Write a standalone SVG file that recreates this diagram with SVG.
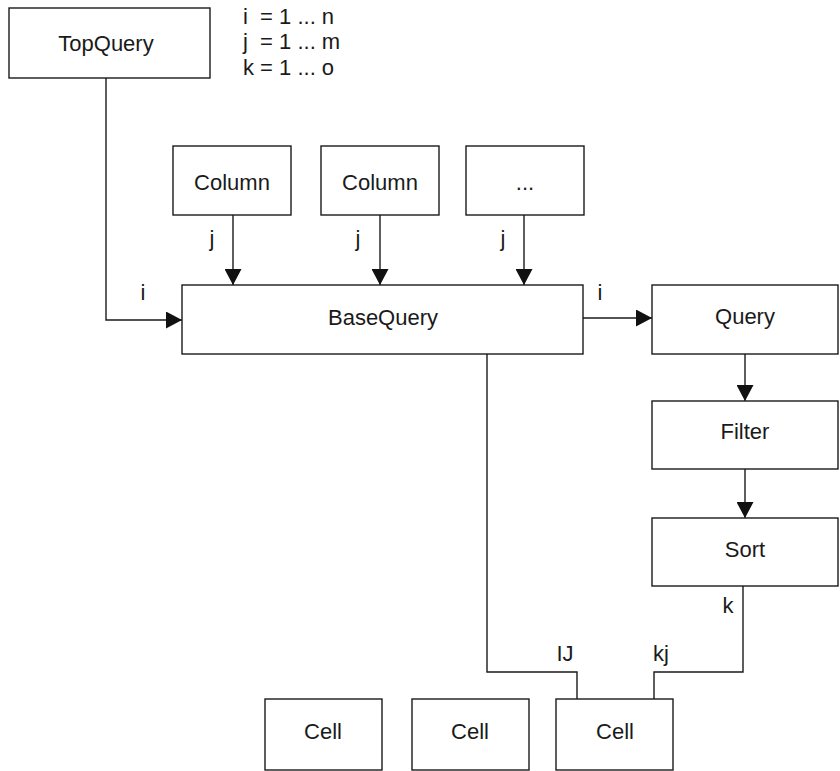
<svg xmlns="http://www.w3.org/2000/svg" width="840" height="771" viewBox="0 0 840 771">
<defs>
<marker id="arr" markerUnits="userSpaceOnUse" markerWidth="16" markerHeight="17" refX="16" refY="8.5" orient="auto" viewBox="0 0 16 17">
<path d="M0,0 L16,8.5 L0,17 z" fill="#111"/>
</marker>
<style>
.box{fill:#fff;stroke:#1a1a1a;stroke-width:1.4}
.t{font-family:"Liberation Sans",Arial,sans-serif;font-size:22px;fill:#1a1a1a;text-anchor:middle}
.l{font-family:"Liberation Sans",Arial,sans-serif;font-size:22px;fill:#1a1a1a;white-space:pre}
.c{fill:none;stroke:#1a1a1a;stroke-width:1.4}
</style>
</defs>
<rect width="840" height="771" fill="#fff"/>
<g id="legend">
<text class="l" x="243" y="24" xml:space="preserve">i  = 1 ... n</text>
<text class="l" x="243" y="49" xml:space="preserve">j  = 1 ... m</text>
<text class="l" x="243" y="75" xml:space="preserve">k = 1 ... o</text>
</g>
<g id="connectors">
<path class="c" d="M106,78 V320 H182" marker-end="url(#arr)"/>
<path class="c" d="M233,215 V285" marker-end="url(#arr)"/>
<path class="c" d="M380,215 V285" marker-end="url(#arr)"/>
<path class="c" d="M524,215 V285" marker-end="url(#arr)"/>
<path class="c" d="M583,318 H652" marker-end="url(#arr)"/>
<path class="c" d="M745,354 V401" marker-end="url(#arr)"/>
<path class="c" d="M745,469 V518" marker-end="url(#arr)"/>
<path class="c" d="M487,354 V672 H577 V699"/>
<path class="c" d="M743,586 V672 H654 V699"/>
<text class="t" x="212" y="246">j</text>
<text class="t" x="358" y="246">j</text>
<text class="t" x="503" y="246">j</text>
<text class="t" x="143" y="300">i</text>
<text class="t" x="600" y="300">i</text>
<text class="t" x="728" y="613">k</text>
<text class="t" x="565" y="661">IJ</text>
<text class="t" x="661" y="661">kj</text>
</g>
<g id="topquery"><rect class="box" x="9" y="8" width="201" height="70"/><text class="t" x="106" y="51">TopQuery</text></g>
<g id="column1"><rect class="box" x="173" y="146" width="118" height="69"/><text class="t" x="232" y="190">Column</text></g>
<g id="column2"><rect class="box" x="321" y="146" width="118" height="69"/><text class="t" x="380" y="190">Column</text></g>
<g id="column3"><rect class="box" x="466" y="146" width="118" height="69"/><text class="t" x="525" y="190">...</text></g>
<g id="basequery"><rect class="box" x="182" y="285" width="401" height="69"/><text class="t" x="383" y="325">BaseQuery</text></g>
<g id="query"><rect class="box" x="652" y="285" width="186" height="69"/><text class="t" x="745" y="324">Query</text></g>
<g id="filter"><rect class="box" x="652" y="401" width="186" height="68"/><text class="t" x="745" y="439">Filter</text></g>
<g id="sort"><rect class="box" x="652" y="518" width="186" height="68"/><text class="t" x="745" y="557">Sort</text></g>
<g id="cell1"><rect class="box" x="265" y="699" width="117" height="71"/><text class="t" x="323" y="739">Cell</text></g>
<g id="cell2"><rect class="box" x="412" y="699" width="117" height="71"/><text class="t" x="470" y="739">Cell</text></g>
<g id="cell3"><rect class="box" x="556" y="699" width="117" height="71"/><text class="t" x="615" y="739">Cell</text></g>
</svg>
